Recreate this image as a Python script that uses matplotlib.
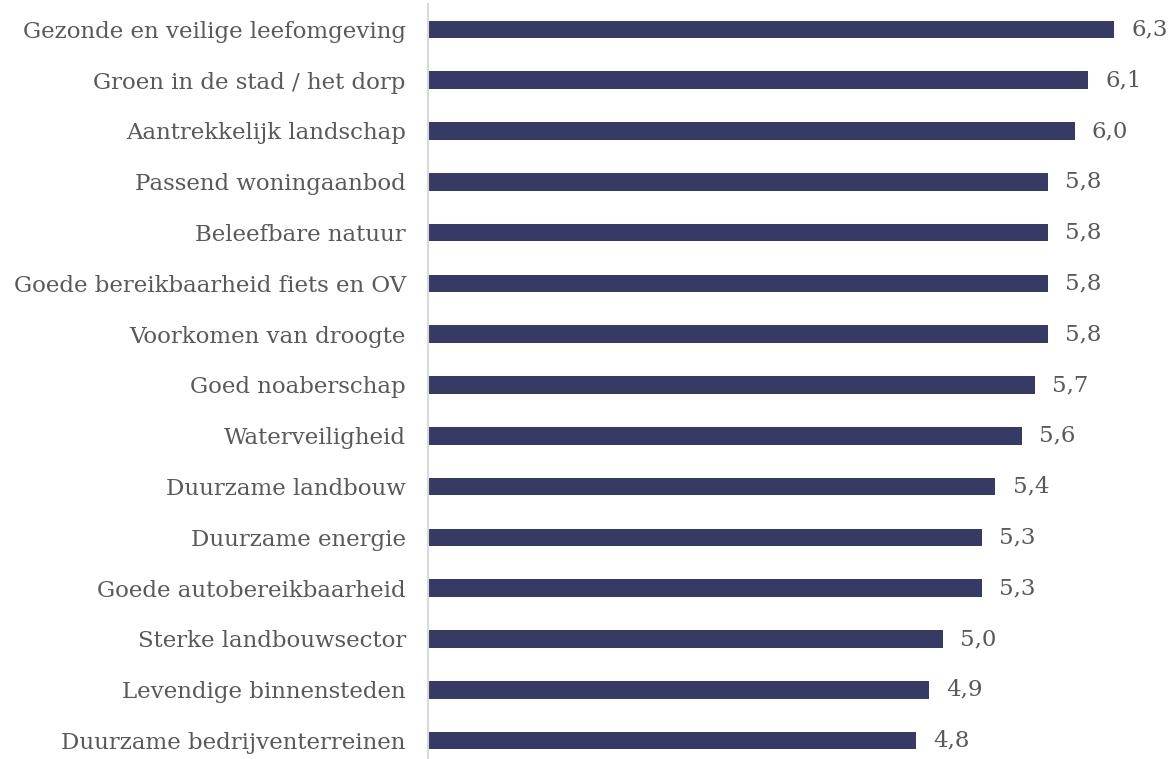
import matplotlib
matplotlib.use('Agg')
import matplotlib.pyplot as plt

categories = [
    "Gezonde en veilige leefomgeving",
    "Groen in de stad / het dorp",
    "Aantrekkelijk landschap",
    "Passend woningaanbod",
    "Beleefbare natuur",
    "Goede bereikbaarheid fiets en OV",
    "Voorkomen van droogte",
    "Goed noaberschap",
    "Waterveiligheid",
    "Duurzame landbouw",
    "Duurzame energie",
    "Goede autobereikbaarheid",
    "Sterke landbouwsector",
    "Levendige binnensteden",
    "Duurzame bedrijventerreinen",
]
scores = [6.3, 6.1, 6.0, 5.8, 5.8, 5.8, 5.8, 5.7, 5.6, 5.4, 5.3, 5.3, 5.0, 4.9, 4.8]

bar_color = '#363b66'
text_color = '#595959'

fig = plt.figure(figsize=(11.71, 7.59), dpi=100)
ax = fig.add_axes([428 / 1171, -7 / 759, 1 - 428 / 1171, 762 / 759])

y = list(range(len(categories)))
ax.barh(y, scores, height=0.35, color=bar_color, left=0)
ax.set_xlim(1.1, 6.73)
ax.set_ylim(len(categories) - 0.5, -0.5)

for yi, v in zip(y, scores):
    ax.text(v + 0.13, yi, f"{v:.1f}".replace('.', ','), va='center', ha='left',
            fontsize=16.5, color=text_color, family='DejaVu Serif')

ax.set_yticks(y)
ax.set_yticklabels(categories, fontsize=16.5, color=text_color, family='DejaVu Serif')
ax.tick_params(axis='y', length=0, pad=16)
ax.set_xticks([])
for s in ['top', 'right', 'bottom']:
    ax.spines[s].set_visible(False)
ax.spines['left'].set_color('#d9d9d9')
ax.spines['left'].set_linewidth(1.5)

fig.savefig('out.png', dpi=100)
